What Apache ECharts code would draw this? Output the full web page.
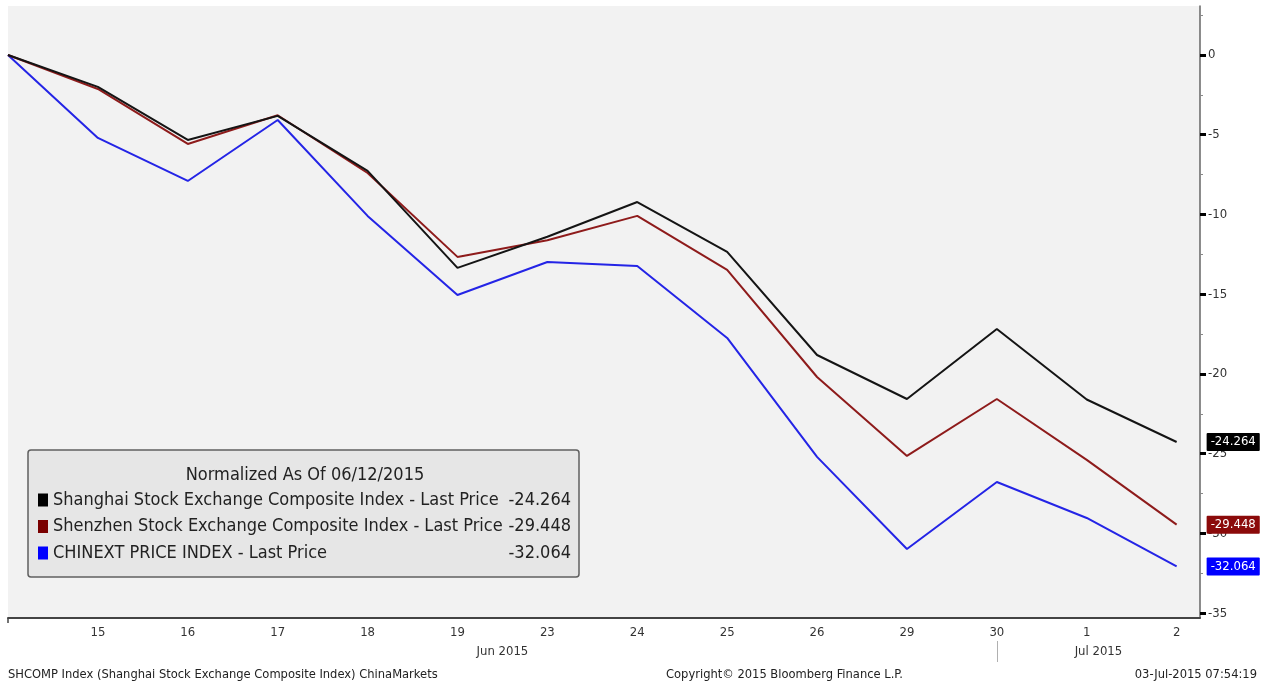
<!DOCTYPE html>
<html>
<head>
<meta charset="utf-8">
<script src="https://cdn.jsdelivr.net/npm/echarts@6/dist/echarts.min.js"></script>
<style>
html,body{margin:0;padding:0;background:#fff;}
#chart{width:1265px;height:685px;}
</style>
</head>
<body>
<div id="chart"></div>
<script>
// ---- data ----
const days = ['12','15','16','17','18','19','23','24','25','26','29','30','1','2'];
const shanghai = [0,-2.0,-5.33,-3.82,-7.27,-13.35,-11.4,-9.22,-12.35,-18.81,-21.57,-17.18,-21.6,-24.264];
const shenzhen = [0,-2.13,-5.58,-3.78,-7.4,-12.66,-11.62,-10.09,-13.48,-20.19,-25.14,-21.57,-25.39,-29.448];
const chinext  = [0,-5.2,-7.9,-4.08,-10.09,-15.05,-12.98,-13.23,-17.74,-25.2,-30.97,-26.77,-29.03,-32.064];
const seriesNames = ['Shanghai Stock Exchange Composite Index - Last Price','Shenzhen Stock Exchange Composite Index - Last Price','CHINEXT PRICE INDEX - Last Price'];
const seriesColors = ['#141414','#8e1b1b','#2424e6'];
const flagColors = ['#000000','#8b0a0a','#0000ff'];
const legendColors = ['#000000','#7a0000','#0000ff'];
const yMajorTicks = [0,-5,-10,-15,-20,-25,-30,-35];
const yMinorTicks = [2.5,-2.5,-7.5,-12.5,-17.5,-22.5,-27.5,-32.5];
const monthLabels = ['Jun 2015','Jul 2015'];
const monthPos = [5.5,12.13];
const monthBreak = [11];
const legendTitle = 'Normalized As Of 06/12/2015';
const footerLeft = 'SHCOMP Index (Shanghai Stock Exchange Composite Index) ChinaMarkets';
const footerMid = 'Copyright\u00A9 2015 Bloomberg Finance L.P.';
const footerRight = '03-Jul-2015 07:54:19';

const allSeries = [shanghai, shenzhen, chinext];
const FONT = "'DejaVu Sans Condensed','DejaVu Sans',sans-serif";
const chart = echarts.init(document.getElementById('chart'), null, {renderer:'canvas'});

const dayIdx = days.map((d,i)=>i);
const footStyle = {fontSize:12.8,fontWeight:'normal',color:'#222',fontFamily:FONT};

const option = {
  backgroundColor:'#ffffff',
  animation:false,
  textStyle:{fontFamily:FONT},
  title:[
    {text:footerLeft,left:8,top:668,padding:0,textStyle:footStyle},
    {text:footerMid,left:666,top:668,padding:0,textStyle:footStyle},
    {text:footerRight,right:8,top:668,padding:0,textStyle:footStyle}
  ],
  grid:{left:8,right:65,top:6,bottom:67,show:true,backgroundColor:'#f2f2f2',borderWidth:0},
  legend:{
    orient:'vertical',left:28,top:450,
    backgroundColor:'#e6e6e6',borderColor:'#606060',borderWidth:1.5,borderRadius:3,
    padding:[41,8,15,10],itemGap:8.5,itemWidth:10,itemHeight:13,icon:'rect',
    data:seriesNames.map((n,i)=>({name:n,itemStyle:{color:legendColors[i]}})),
    selectedMode:false,
    formatter:function(name){
      const i = seriesNames.indexOf(name);
      const v = allSeries[i][allSeries[i].length-1].toFixed(3);
      return '{n|'+name+'}{v|'+v+'}';
    },
    textStyle:{fontFamily:FONT,fontSize:18,color:'#222',
      rich:{n:{width:450,fontSize:18,height:20,fontFamily:FONT,color:'#222'},v:{width:68,align:'right',height:20,fontSize:18,fontFamily:FONT,color:'#222'}}}
  },
  graphic:[
    {type:'text',x:305,y:475,z:100,style:{text:legendTitle,x:0,y:0,textAlign:'center',textVerticalAlign:'middle',fontSize:18,fontFamily:FONT,fill:'#222'}}
  ],
  xAxis:[
    {type:'value',min:0,max:13.26,position:'bottom',
      axisLine:{show:true,onZero:false,lineStyle:{color:'#444',width:2}},
      axisTick:{show:true,customValues:[0],length:5,lineStyle:{color:'#444',width:1.5}},
      axisLabel:{show:true,customValues:dayIdx.slice(1),formatter:function(v){return days[Math.round(v)];},
        fontSize:13,color:'#333',margin:8,fontFamily:FONT},
      splitLine:{show:false}},
    {type:'value',min:0,max:13.26,position:'bottom',offset:23,
      axisLine:{show:false,onZero:false},
      axisTick:{show:true,customValues:monthBreak,length:21,inside:false,lineStyle:{color:'#b0b0b0',width:1}},
      axisLabel:{show:true,customValues:monthPos,formatter:function(v){return monthLabels[monthPos.indexOf(v)];},
        fontSize:13,color:'#333',margin:4,fontFamily:FONT},
      splitLine:{show:false}}
  ],
  yAxis:[
    {type:'value',min:-35.3,max:3.07,position:'right',
      axisLine:{show:true,onZero:false,lineStyle:{color:'#666',width:1.5}},
      axisTick:{show:true,customValues:yMajorTicks,length:6,lineStyle:{color:'#000',width:3}},
      axisLabel:{show:true,customValues:yMajorTicks,fontSize:13,color:'#333',margin:8,fontFamily:FONT},
      splitLine:{show:false}},
    {type:'value',min:-35.3,max:3.07,position:'right',
      axisLine:{show:false,onZero:false},
      axisTick:{show:true,customValues:yMinorTicks,length:3,lineStyle:{color:'#888',width:1}},
      axisLabel:{show:false},
      splitLine:{show:false}}
  ],
  series:allSeries.map((vals,i)=>({
    name:seriesNames[i],type:'line',xAxisIndex:0,yAxisIndex:0,
    data:vals.map((v,k)=>[k,v]),
    showSymbol:false,symbol:'none',
    lineStyle:{color:seriesColors[i],width:2},
    itemStyle:{color:legendColors[i]},
    z:10-i,
    endLabel:{show:true,formatter:function(p){return p.value[1].toFixed(3);},
      backgroundColor:flagColors[i],color:'#fff',fontSize:13,fontFamily:FONT,
      padding:[3,4,2,4],distance:30,borderRadius:1}
  }))
};
chart.setOption(option);
</script>
</body>
</html>
